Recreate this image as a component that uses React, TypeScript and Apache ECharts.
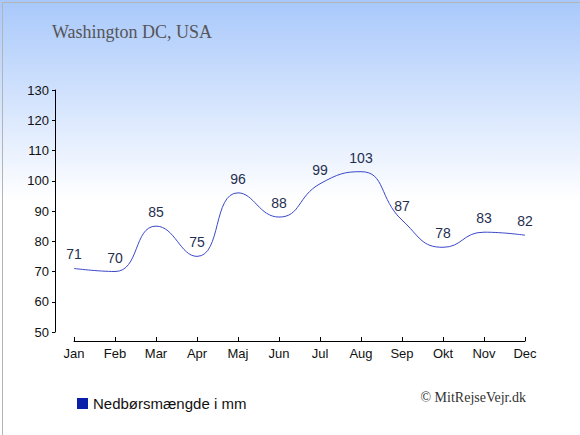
import React, { useEffect, useRef } from "react";
import * as echarts from "echarts";

const months = ["Jan", "Feb", "Mar", "Apr", "Maj", "Jun", "Jul", "Aug", "Sep", "Okt", "Nov", "Dec"];
const precipitation = [71, 70, 85, 75, 96, 88, 99, 103, 87, 78, 83, 82];
const seriesName = "Nedbørsmængde i mm";
const titleText = "Washington DC, USA";
const creditText = "© MitRejseVejr.dk";

export default function App() {
  const ref = useRef<HTMLDivElement>(null);
  useEffect(() => {
    const chart = echarts.init(ref.current!, null, { renderer: "svg" });
    chart.setOption({
      animation: false,
      backgroundColor: new echarts.graphic.LinearGradient(0, 0, 0, 1, [
        { offset: 0, color: "#a8c8fb" },
        { offset: 0.46, color: "#ffffff" },
        { offset: 1, color: "#ffffff" },
      ]),
      title: {
        text: titleText,
        left: 47,
        top: 18,
        textStyle: { fontFamily: "Liberation Serif", fontWeight: "normal", fontSize: 18, color: "#555555" },
      },
      legend: {
        left: 72,
        top: 391,
        itemWidth: 11,
        itemHeight: 11,
        itemGap: 5,
        icon: "rect",
        textStyle: { fontFamily: "Liberation Sans", fontSize: 15, color: "#111111" },
        data: [{ name: seriesName, itemStyle: { color: "#0a1eaa" } }],
      },
      graphic: [
        {
          type: "text",
          right: 54,
          top: 390,
          style: { text: creditText, font: "14px 'Liberation Serif'", fill: "#333333" },
        },
        {
          type: "rect",
          left: 0,
          top: 0,
          shape: { x: 0.5, y: 0.5, width: 579, height: 434 },
          style: { fill: "none", stroke: "#b4b4b4", lineWidth: 1 },
        },
      ],
      grid: { left: 74, right: 55, top: 90, bottom: 103 },
      xAxis: {
        type: "category",
        data: months,
        boundaryGap: false,
        offset: 9,
        axisLine: { lineStyle: { color: "#000", width: 1 } },
        axisTick: { inside: true, length: 4, alignWithLabel: true, lineStyle: { color: "#000" } },
        axisLabel: { color: "#111", fontFamily: "Liberation Sans", fontSize: 13, margin: 6 },
        splitLine: { show: false },
      },
      yAxis: {
        type: "value",
        min: 50,
        max: 130,
        interval: 10,
        offset: 19,
        axisLine: { show: true, lineStyle: { color: "#000", width: 1 } },
        axisTick: { show: true, length: 3, lineStyle: { color: "#000" } },
        axisLabel: { color: "#111", fontFamily: "Liberation Sans", fontSize: 13, margin: 6 },
        splitLine: { show: false },
      },
      series: [
        {
          name: seriesName,
          type: "line",
          data: precipitation,
          smooth: 0.5,
          symbol: "circle",
          symbolSize: 0,
          showSymbol: true,
          itemStyle: { color: "#0a1eaa" },
          lineStyle: { color: "#3a48c8", width: 1 },
          label: {
            show: true,
            position: "top",
            distance: 7,
            color: "#1f2f50",
            fontFamily: "Liberation Sans",
            fontSize: 14,
          },
        },
      ],
    });
    return () => chart.dispose();
  }, []);
  return <div ref={ref} style={{ width: 580, height: 435, position: "absolute", left: 0, top: 0 }} />;
}
